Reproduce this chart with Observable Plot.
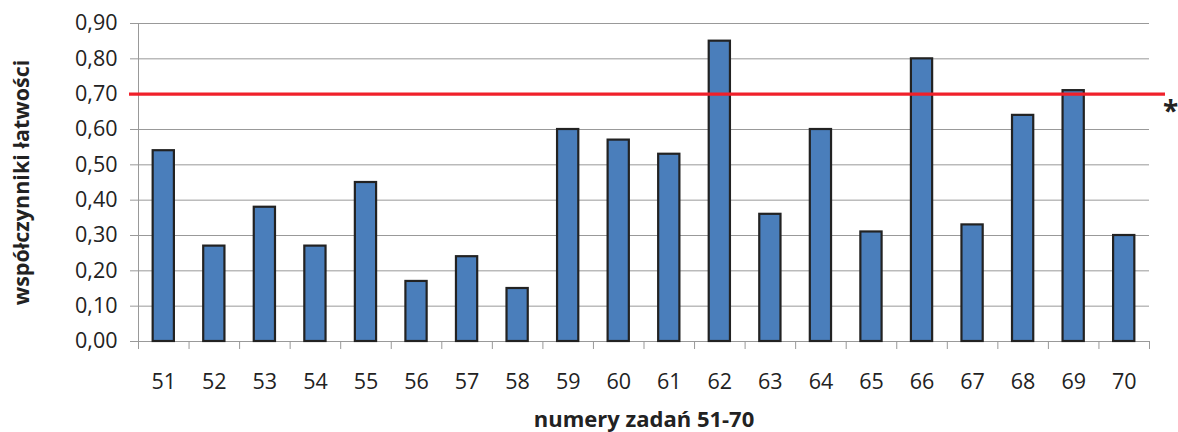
<!DOCTYPE html>
<html>
<head>
<meta charset="utf-8">
<script src="https://cdn.jsdelivr.net/npm/d3@7"></script>
<script src="https://cdn.jsdelivr.net/npm/@observablehq/plot@0.6"></script>
<style>
  html, body { margin: 0; padding: 0; background: #fff; }
  #chart svg { display: block; }
</style>
</head>
<body>
<div id="chart"></div>
<script>
// Data
const tasks = ["51","52","53","54","55","56","57","58","59","60","61","62","63","64","65","66","67","68","69","70"];
const values = [0.54,0.27,0.38,0.27,0.45,0.17,0.24,0.15,0.60,0.57,0.53,0.85,0.36,0.60,0.31,0.80,0.33,0.64,0.71,0.30];
const threshold = [0.70];
const yTicks = [0,0.1,0.2,0.3,0.4,0.5,0.6,0.7,0.8,0.9];
const yTitle = "współczynniki łatwości";
const xTitle = "numery zadań 51-70";
const marker = "*";

const table = tasks.map((t, i) => ({task: t, value: values[i]}));

const W = 1178, H = 432;
const mL = 138, mR = 29, mT = 23, mB = 91;
const step = (W - mL - mR) / tasks.length;
const font = "'Open Sans', sans-serif";

const chart = Plot.plot({
  width: W,
  height: H,
  marginLeft: mL,
  marginRight: mR,
  marginTop: mT,
  marginBottom: mB,
  style: {fontFamily: font, color: "#222", background: "#fff"},
  x: {domain: tasks, paddingInner: 0.58, paddingOuter: 0.29, round: false, label: null},
  y: {domain: [0, 0.9], label: null},
  marks: [
    Plot.gridY(yTicks, {stroke: "#999", strokeOpacity: 1, strokeWidth: 1}),
    Plot.frame({anchor: "left", stroke: "#999"}),
    Plot.frame({anchor: "bottom", stroke: "#999"}),
    Plot.axisY({ticks: yTicks, tickSize: 8, tickPadding: 13, stroke: "#999", fill: "#222", fontSize: 21.5,
      tickFormat: d => d.toFixed(2).replace(".", ","), label: null}),
    Plot.axisX({tickSize: 0, tickPadding: 32, fontSize: 21.5, fill: "#222", label: null}),
    // category boundary ticks
    Plot.ruleX(tasks, {x: d => d, y1: () => 0, dx: -step / 2, insetBottom: -8, stroke: "#999"}),
    Plot.ruleX(tasks.slice(-1), {x: d => d, y1: () => 0, dx: step / 2, insetBottom: -8, stroke: "#999"}),
    Plot.barY(table, {x: "task", y: "value", fill: "#4a7ebb", stroke: "#222", strokeWidth: 2.2}),
    Plot.ruleY(threshold, {stroke: "#f0202a", strokeWidth: 3.2, insetLeft: -9, insetRight: -16}),
    Plot.text([marker], {y: () => threshold[0], frameAnchor: "right", dx: 21, dy: 18, fontSize: 28, fontWeight: "bold", fill: "#222", textAnchor: "middle"}),
    Plot.text([yTitle], {frameAnchor: "left", textAnchor: "middle", rotate: -90, dx: -116, fontSize: 21.5, fontWeight: "bold", fill: "#222"}),
    Plot.text([xTitle], {frameAnchor: "bottom", textAnchor: "middle", dy: 85, fontSize: 22, fontWeight: "bold", fill: "#222"})
  ]
});
document.getElementById("chart").appendChild(chart);
</script>
</body>
</html>
